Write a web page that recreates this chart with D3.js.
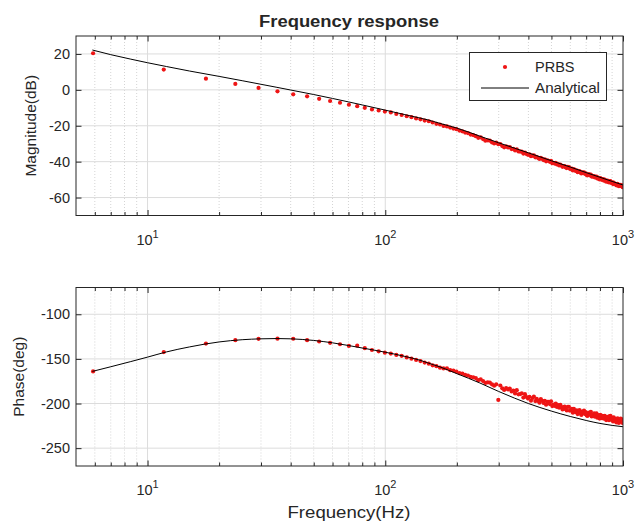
<!DOCTYPE html>
<html>
<head>
<meta charset="utf-8">
<script src="https://cdn.jsdelivr.net/npm/d3@7"></script>
<style>
	body { margin: 0; background: #fff; }
	svg text { font-family: "Liberation Sans", Arial, Helvetica, sans-serif; fill: #262626; }
</style>
</head>
<body>
<script>
// PRBS bins (Hz)
const prbsFreq = [
	5.9, 11.7, 17.6, 23.4, 29.3, 35.2, 41.0, 46.9, 52.7, 58.6,
	64.5, 70.3, 76.2, 82.0, 87.9, 93.8, 99.6, 105.5, 111.3, 117.2,
	123.1, 128.9, 134.8, 140.6, 146.5, 152.4, 158.2, 164.1, 169.9, 175.8,
	181.7, 187.5, 193.4, 199.2, 205.1, 211.0, 216.8, 222.7, 228.5, 234.4,
	240.3, 246.1, 252.0, 257.8, 263.7, 269.6, 275.4, 281.3, 287.1, 293.0,
	298.9, 304.7, 310.6, 316.4, 322.3, 328.2, 334.0, 339.9, 345.7, 351.6,
	357.5, 363.3, 369.2, 375.0, 380.9, 386.8, 392.6, 398.5, 404.3, 410.2,
	416.1, 421.9, 427.8, 433.6, 439.5, 445.4, 451.2, 457.1, 462.9, 468.8,
	474.7, 480.5, 486.4, 492.2, 498.1, 504.0, 509.8, 515.7, 521.5, 527.4,
	533.3, 539.1, 545.0, 550.8, 556.7, 562.6, 568.4, 574.3, 580.1, 586.0,
	591.9, 597.7, 603.6, 609.4, 615.3, 621.2, 627.0, 632.9, 638.7, 644.6,
	650.5, 656.3, 662.2, 668.0, 673.9, 679.8, 685.6, 691.5, 697.3, 703.2,
	709.1, 714.9, 720.8, 726.6, 732.5, 738.4, 744.2, 750.1, 755.9, 761.8,
	767.7, 773.5, 779.4, 785.2, 791.1, 797.0, 802.8, 808.7, 814.5, 820.4,
	826.3, 832.1, 838.0, 843.8, 849.7, 855.6, 861.4, 867.3, 873.1, 879.0,
	884.9, 890.7, 896.6, 902.4, 908.3, 914.2, 920.0, 925.9, 931.7, 937.6,
	943.5, 949.3, 955.2, 961.0, 966.9, 972.8, 978.6, 984.5, 990.3, 996.2
];
const prbsMag = [
	20.4, 11.3, 6.2, 3.3, 1.1, -0.8, -2.5, -3.6, -5.0, -6.2,
	-7.2, -8.3, -9.1, -10.0, -10.9, -11.5, -12.1, -12.6, -13.4, -14.0,
	-14.7, -15.2, -15.9, -16.4, -17.1, -17.5, -18.2, -18.9, -19.3, -20.1,
	-20.4, -21.0, -21.6, -21.9, -22.7, -23.1, -23.8, -24.1, -24.9, -25.2,
	-25.8, -26.7, -26.5, -27.4, -28.3, -28.1, -28.3, -29.3, -29.9, -29.4,
	-30.3, -30.2, -31.3, -32.0, -31.5, -32.1, -31.9, -33.0, -32.8, -33.8,
	-33.1, -34.3, -34.4, -34.4, -35.5, -34.9, -35.7, -36.2, -35.9, -37.0,
	-36.6, -36.5, -37.6, -37.3, -38.0, -38.5, -37.9, -38.4, -39.1, -38.7,
	-39.8, -39.3, -39.5, -40.1, -39.6, -40.9, -40.7, -41.1, -40.7, -41.6,
	-41.4, -42.1, -41.6, -42.2, -42.9, -42.5, -42.5, -43.2, -43.6, -42.9,
	-43.0, -44.0, -44.0, -43.9, -44.9, -44.1, -44.8, -45.2, -44.9, -45.9,
	-45.5, -45.2, -46.1, -46.6, -45.9, -46.3, -46.0, -46.8, -46.5, -47.4,
	-47.6, -47.1, -47.1, -47.7, -47.2, -48.3, -48.1, -48.4, -48.0, -48.8,
	-48.6, -48.3, -49.4, -48.9, -49.5, -49.9, -49.2, -49.6, -50.1, -49.7,
	-49.9, -50.6, -50.0, -50.5, -51.2, -50.7, -50.6, -51.3, -51.6, -50.8,
	-50.9, -51.8, -51.7, -51.5, -52.5, -51.7, -52.3, -52.6, -52.3, -53.2,
	-52.8, -52.4, -53.3, -53.7, -53.0, -53.3, -52.9, -53.7, -53.4, -54.2
];
const prbsPhase = [
	-164, -142.3, -132.8, -129, -127.5, -127.3, -127.4, -129, -130.5, -132,
	-133.6, -135.5, -135.2, -138, -140, -141.5, -143, -144, -145.5, -146.5,
	-148.3, -149.7, -151.2, -152.4, -154.1, -155.3, -157.2, -158.2, -159.8, -160.7,
	-160.6, -162.6, -163.1, -164.3, -165.9, -166.4, -168.0, -168.6, -170.2, -170.7,
	-171.5, -173.8, -173.0, -174.8, -176.9, -176.3, -176.6, -178.6, -180.0, -178.5,
	-196.0, -179.8, -183.0, -184.8, -182.8, -184.3, -183.2, -186.4, -185.6, -188.7,
	-185.0, -189.7, -189.4, -188.6, -193.3, -189.5, -192.7, -194.5, -192.4, -196.9,
	-193.8, -192.3, -197.2, -194.7, -197.1, -199.1, -195.0, -197.0, -199.4, -196.9,
	-201.3, -198.2, -198.1, -200.6, -197.5, -202.9, -201.2, -202.6, -200.0, -203.8,
	-201.7, -204.6, -201.5, -203.9, -206.7, -204.1, -203.5, -206.4, -207.8, -203.7,
	-203.6, -208.0, -207.2, -205.9, -210.2, -205.9, -208.6, -209.8, -207.6, -211.8,
	-209.6, -207.3, -211.0, -212.8, -209.0, -210.2, -208.0, -211.7, -209.5, -213.2,
	-213.9, -210.6, -210.3, -212.5, -209.2, -214.4, -212.6, -213.8, -211.0, -214.7,
	-212.9, -211.1, -215.8, -213.0, -215.2, -216.9, -212.6, -214.3, -216.5, -213.7,
	-214.4, -217.0, -213.7, -215.8, -218.5, -215.6, -214.8, -217.4, -218.6, -214.2,
	-213.9, -218.0, -217.2, -215.8, -220.0, -215.6, -218.3, -219.4, -217.1, -221.2,
	-218.9, -216.5, -220.2, -221.8, -218.0, -219.1, -216.8, -220.4, -218.1, -221.7
];

// analytical model, sampled
const modelFreq = [5.86, 7, 8.5, 10, 12, 15, 20, 25, 30, 35, 40, 50, 60, 70, 80, 100, 120, 140, 150, 170, 200, 250, 300, 350, 400, 500, 600, 700, 800, 900, 1000];
const modelMag = [22.2, 19.6, 17.1, 15.1, 13.0, 10.5, 7.5, 5.1, 3.1, 1.4, -0.1, -2.6, -4.8, -6.7, -8.4, -11.3, -13.7, -15.7, -16.6, -18.7, -21.3, -25.8, -29.5, -32.5, -35.1, -39.5, -43.0, -46.1, -48.7, -51.0, -53.0];
const modelPhase = [-164, -158.8, -153, -148, -142.2, -136.6, -131, -128.5, -127.5, -127.2, -127.5, -129.3, -132, -135, -137.8, -142.5, -147, -151.5, -154.2, -159, -166.5, -177, -186.5, -194, -200, -208.5, -214.5, -219, -222.3, -224.5, -226];

const magTicks = [20, 0, -20, -40, -60];
const phaseTicks = [-100, -150, -200, -250];
const decades = [10, 100, 1000];
const minorFreq = [6, 7, 8, 9, 20, 30, 40, 50, 60, 70, 80, 90, 200, 300, 400, 500, 600, 700, 800, 900];

const width = 636;
const height = 525;
const axColor = "#262626";

const svg = d3.select("body").append("svg")
	.attr("width", width)
	.attr("height", height);

const x = d3.scaleLog().domain([5, 1000]).range([76, 623]);

function drawPanel(top, bottom, yDomain, yTicks, yValues, modelValues, yLabel, labelX, id) {
	const y = d3.scaleLinear().domain(yDomain).range([bottom, top]);
	const g = svg.append("g");

	g.append("rect")
		.attr("x", 76).attr("y", top)
		.attr("width", 623 - 76).attr("height", bottom - top)
		.attr("fill", "#fff");

	// grid
	g.selectAll("line.minor").data(minorFreq).join("line")
		.attr("x1", d => x(d)).attr("x2", d => x(d))
		.attr("y1", top).attr("y2", bottom)
		.attr("stroke", "#d4d4d4").attr("stroke-width", 1)
		.attr("stroke-dasharray", "1,2");
	g.selectAll("line.vmaj").data(decades.slice(0, 2)).join("line")
		.attr("x1", d => x(d)).attr("x2", d => x(d))
		.attr("y1", top).attr("y2", bottom)
		.attr("stroke", "#dcdcdc").attr("stroke-width", 1);
	g.selectAll("line.hmaj").data(yTicks).join("line")
		.attr("x1", 76).attr("x2", 623)
		.attr("y1", d => y(d)).attr("y2", d => y(d))
		.attr("stroke", "#dcdcdc").attr("stroke-width", 1);

	g.append("clipPath").attr("id", id)
		.append("rect")
		.attr("x", 76).attr("y", top)
		.attr("width", 623 - 76).attr("height", bottom - top);

	const plot = g.append("g").attr("clip-path", `url(#${id})`);

	plot.selectAll("circle").data(prbsFreq).join("circle")
		.attr("cx", d => x(d))
		.attr("cy", (d, i) => y(yValues[i]))
		.attr("r", 2.1)
		.attr("fill", "#ee1515");

	const line = d3.line()
		.x((d, i) => x(modelFreq[i]))
		.y(d => y(d))
		.curve(d3.curveMonotoneX);

	plot.append("path")
		.datum(modelValues)
		.attr("d", line)
		.attr("fill", "none")
		.attr("stroke", "#000")
		.attr("stroke-width", 1);

	// axes with inward ticks on every side
	const xBottom = d3.axisBottom(x).tickValues(decades).tickSizeInner(-5.5).tickSizeOuter(0).tickFormat("");
	const xTop = d3.axisTop(x).tickValues(decades).tickSizeInner(-5.5).tickSizeOuter(0).tickFormat("");
	const xBottomMinor = d3.axisBottom(x).tickValues(minorFreq).tickSizeInner(-3.5).tickSizeOuter(0).tickFormat("");
	const xTopMinor = d3.axisTop(x).tickValues(minorFreq).tickSizeInner(-3.5).tickSizeOuter(0).tickFormat("");
	const yLeft = d3.axisLeft(y).tickValues(yTicks).tickSizeInner(-5.5).tickSizeOuter(0).tickPadding(6).tickFormat(d => String(d));
	const yRight = d3.axisRight(y).tickValues(yTicks).tickSizeInner(-5.5).tickSizeOuter(0).tickFormat("");

	const axes = [
		[xBottom, `translate(0,${bottom})`],
		[xTop, `translate(0,${top})`],
		[xBottomMinor, `translate(0,${bottom})`],
		[xTopMinor, `translate(0,${top})`],
		[yLeft, "translate(76,0)"],
		[yRight, "translate(623,0)"]
	];
	axes.forEach(([ax, tr]) => {
		const a = g.append("g").attr("transform", tr).call(ax);
		a.select(".domain").remove();
		a.selectAll("line").attr("stroke", axColor);
		a.selectAll("text")
			.attr("font-size", 14.5)
			.attr("fill", axColor)
			.style("font-family", "'Liberation Sans', Arial, sans-serif");
	});

	g.append("rect")
		.attr("x", 76).attr("y", top)
		.attr("width", 623 - 76).attr("height", bottom - top)
		.attr("fill", "none")
		.attr("stroke", axColor)
		.attr("stroke-width", 1);

	// decade labels 10^n
	const lab = g.selectAll("text.dec").data(decades).join("text")
		.attr("x", d => x(d))
		.attr("y", bottom + 29)
		.attr("text-anchor", "middle")
		.attr("font-size", 14.5);
	lab.append("tspan").text("10");
	lab.append("tspan")
		.attr("dy", -7)
		.attr("font-size", 11)
		.text(d => Math.round(Math.log10(d)));

	g.append("text")
		.attr("transform", `translate(${labelX},${(top + bottom) / 2}) rotate(-90)`)
		.attr("text-anchor", "middle")
		.attr("font-size", 15.5)
		.text(yLabel);

	return y;
}

drawPanel(36, 215.5, [-70, 30], magTicks, prbsMag, modelMag, "Magnitude(dB)", 36, "clipMag");
drawPanel(287.5, 466, [-270, -70], phaseTicks, prbsPhase, modelPhase, "Phase(deg)", 24, "clipPhase");

svg.append("text")
	.attr("x", 349).attr("y", 27)
	.attr("text-anchor", "middle")
	.attr("font-size", 16)
	.attr("font-weight", "bold")
	.attr("fill", "#000")
	.attr("textLength", 180)
	.attr("lengthAdjust", "spacingAndGlyphs")
	.text("Frequency response");

svg.append("text")
	.attr("x", 349).attr("y", 518)
	.attr("text-anchor", "middle")
	.attr("font-size", 16)
	.attr("textLength", 123)
	.attr("lengthAdjust", "spacingAndGlyphs")
	.text("Frequency(Hz)");

// legend
const legend = svg.append("g");
legend.append("rect")
	.attr("x", 469.5).attr("y", 52.5)
	.attr("width", 137).attr("height", 48)
	.attr("fill", "#fff")
	.attr("stroke", axColor)
	.attr("stroke-width", 1);
legend.append("circle")
	.attr("cx", 505).attr("cy", 67)
	.attr("r", 2.1)
	.attr("fill", "#ee1515");
legend.append("text")
	.attr("x", 535).attr("y", 72)
	.attr("font-size", 14.5)
	.text("PRBS");
legend.append("line")
	.attr("x1", 481).attr("x2", 529)
	.attr("y1", 88).attr("y2", 88)
	.attr("stroke", "#000");
legend.append("text")
	.attr("x", 535).attr("y", 93)
	.attr("font-size", 14.5)
	.attr("textLength", 65)
	.attr("lengthAdjust", "spacingAndGlyphs")
	.text("Analytical");
</script>
</body>
</html>
